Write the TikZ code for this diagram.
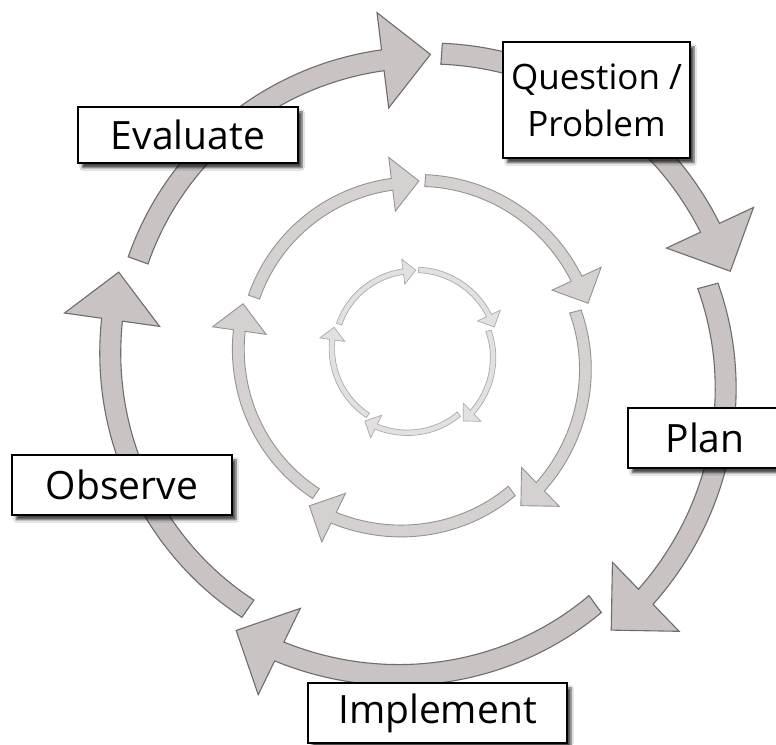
\documentclass[tikz,border=0pt]{standalone}
\usepackage{fontspec}
\setmainfont{Open Sans}
\usepackage{tikz}
\usetikzlibrary{shadows.blur}

\definecolor{outerfill}{RGB}{201,195,195}
\definecolor{outerline}{RGB}{112,108,108}
\definecolor{middlefill}{RGB}{213,209,209}
\definecolor{middleline}{RGB}{150,146,146}
\definecolor{innerfill}{RGB}{226,224,224}
\definecolor{innerline}{RGB}{172,170,170}

\def\shaftw{10.5}
\def\headw{48}
\def\headl{48}

% one curved arrow: tail angle, head angle, tail radius, head radius
\newcommand{\ringarrow}[4]{%
  \filldraw[ring] plot[domain=#1:#2, samples=40] (\x:{#3+((#4)-(#3))*((#1)-\x)/((#1)-(#2))+\shaftw})
    -- (#2:{#4+\headw})
    -- ({(#4)*cos(#2)+\headl*cos((#2)-90)},{(#4)*sin(#2)+\headl*sin((#2)-90)})
    -- (#2:{#4-\headw})
    -- plot[domain=#2:#1, samples=40] (\x:{#3+((#4)-(#3))*((#1)-\x)/((#1)-(#2))-\shaftw})
    -- cycle;}

\newcommand{\fivearrows}{%
  \ringarrow{160}{97}{300}{305}
  \ringarrow{86}{25}{310}{320}
  \ringarrow{15}{-46}{298}{325}
  \ringarrow{-54}{-116}{298}{321}
  \ringarrow{-125}{-188}{300}{311}}

\tikzset{
  outerring/.style={fill=outerfill, draw=outerline, line width=1.1pt, line join=miter},
  middlering/.style={fill=middlefill, draw=middleline, line width=0.9pt, line join=miter},
  innerring/.style={fill=innerfill, draw=innerline, line width=0.7pt, line join=miter},
  stagebox/.style={draw=black, fill=white, line width=1.3pt, inner sep=0pt, align=center,
    font=\fontsize{39}{47}\selectfont,
    blur shadow={shadow xshift=4pt, shadow yshift=-5pt, shadow opacity=70, shadow blur steps=6}}
}

\begin{document}
\begin{tikzpicture}[x=1pt,y=1pt]
  \clip (0,0) rectangle (776,744);
  \fill[white] (0,0) rectangle (776,744);

  \begin{scope}[shift={(420,381)}, ring/.style=outerring]
    \fivearrows
  \end{scope}
  \begin{scope}[shift={(413,389)}, scale=0.564, ring/.style=middlering]
    \fivearrows
  \end{scope}
  \begin{scope}[shift={(413,393)}, scale=0.262, ring/.style=innerring]
    \fivearrows
  \end{scope}

  \node[stagebox, minimum width=187, minimum height=116, font=\fontsize{35}{47}\selectfont] (question) at (596.5,644) {Question /\\Problem};
  \node[stagebox, minimum width=154, minimum height=60] (plan) at (705,306) {Plan};
  \node[stagebox, minimum width=259, minimum height=60] (implement) at (437.5,31) {Implement};
  \node[stagebox, minimum width=220, minimum height=60] (observe) at (122,259) {Observe};
  \node[stagebox, minimum width=220, minimum height=56] (evaluate) at (188,609) {Evaluate};
\end{tikzpicture}
\end{document}
